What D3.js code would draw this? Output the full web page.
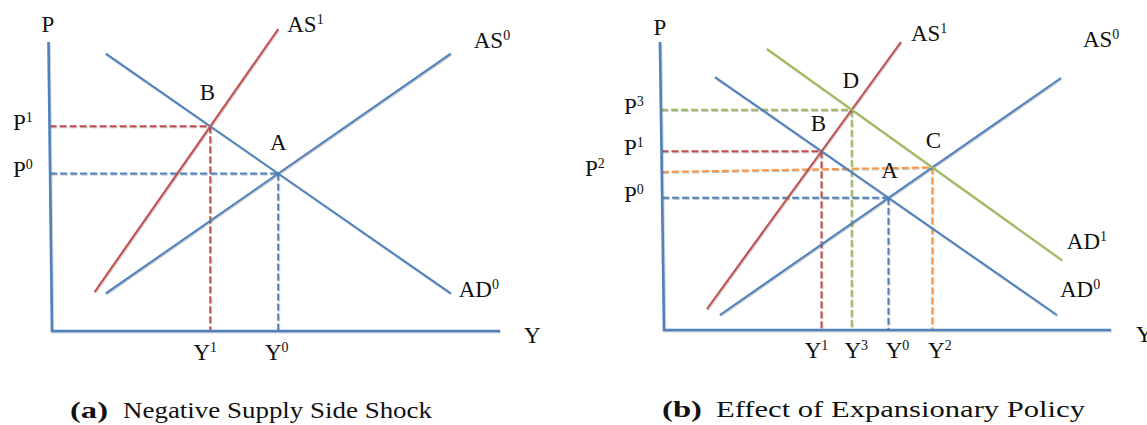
<!DOCTYPE html>
<html>
<head>
<meta charset="utf-8">
<script src="https://cdn.jsdelivr.net/npm/d3@7"></script>
<style>
  body { margin: 0; background: #fff; }
  svg { display: block; }
</style>
</head>
<body>
<svg id="chart" width="1147" height="425"></svg>
<script>
// ---------- Panel (a): negative supply side shock ----------
const curvesA = ["AD0", "AS0", "AS1"];
const curveFromA = [[12, 96], [12, 13], [9.5, 13.5]];
const curveToA = [[89, 13], [89, 96], [50.5, 104.5]];
const pointsA = ["A", "B"];
const pointCurvesA = [["AD0", "AS0"], ["AD0", "AS1"]];
const priceLabelsA = ["P0", "P1"];
const outputLabelsA = ["Y0", "Y1"];
const priceStartA = [null, null];

// ---------- Panel (b): effect of expansionary policy ----------
const curvesB = ["AD0", "AS0", "AS1", "AD1"];
const curveFromB = [[11.4, 87.8], [12.5, 5.2], [9.6, 7.3], [23, 97.6]];
const curveToB = [[87.9, 5.2], [88.8, 87.5], [53, 100], [89, 24.3]];
const pointsB = ["A", "B", "D", "C"];
const pointCurvesB = [["AD0", "AS0"], ["AD0", "AS1"], ["AD1", "AS1"], ["AD1", "AS0"]];
const priceLabelsB = ["P0", "P1", "P3", "P2"];
const outputLabelsB = ["Y0", "Y1", "Y3", "Y2"];
const priceStartB = [null, null, null, 54.9];

// ---------- styling ----------
const BLUE = "#4f81bd", RED = "#c0504d", GREEN = "#9bbb59", ORANGE = "#f79646";
const curveColor = { AD0: BLUE, AS0: BLUE, AS1: RED, AD1: GREEN };
const FONT = "'Liberation Serif', 'Times New Roman', serif";

const panels = [
  {
    curves: curvesA, from: curveFromA, to: curveToA,
    points: pointsA, pointCurves: pointCurvesA,
    priceLabels: priceLabelsA, outputLabels: outputLabelsA, priceStart: priceStartA,
    guideColor: [BLUE, RED],
    xRange: [52, 500], yRange: [331, 42], axisTopX: -0.78,
    curveLabelOffset: { AD0: [8, 4], AS0: [23, -6], AS1: [9, 3] },
    pointLabelOffset: [[0, -23], [-3, -26]],
    priceLabelX: [13, 13],
    outputLabelDx: [-1.5, -5], outputLabelDy: 29,
    pTitle: [48, 32], yTitle: [524, 343],
    caption: { bold: "(a)", text: "Negative Supply Side Shock", x: 70, xt: 123, wb: 38, wt: 309, y: 418 }
  },
  {
    curves: curvesB, from: curveFromB, to: curveToB,
    points: pointsB, pointCurves: pointCurvesB,
    priceLabels: priceLabelsB, outputLabels: outputLabelsB, priceStart: priceStartB,
    guideColor: [BLUE, RED, GREEN, ORANGE],
    xRange: [664, 1111], yRange: [330, 42], axisTopX: -0.9,
    curveLabelOffset: { AD0: [3, -18], AS0: [22, -31], AS1: [10, -1], AD1: [5, -11] },
    pointLabelOffset: [[1, -20], [-3, -20], [-1, -22], [1, -19]],
    priceLabelX: [624, 624, 624, 585],
    outputLabelDx: [9, -5, 4.5, 7.5], outputLabelDy: 28,
    pTitle: [660, 35], yTitle: [1136, 342],
    caption: { bold: "(b)", text: "Effect of Expansionary Policy", x: 662, xt: 716, wb: 40, wt: 369, y: 417 }
  }
];

const svg = d3.select("#chart");

const defs = svg.append("defs");
defs.append("filter").attr("id", "soft").attr("x", "-5%").attr("y", "-5%")
  .attr("width", "110%").attr("height", "110%")
  .append("feDropShadow")
  .attr("dx", 0.6).attr("dy", 1).attr("stdDeviation", 0.6)
  .attr("flood-color", "#000").attr("flood-opacity", 0.28);

function intersect(a1, a2, b1, b2) {
  const d = (a1[0] - a2[0]) * (b1[1] - b2[1]) - (a1[1] - a2[1]) * (b1[0] - b2[0]);
  const t = ((a1[0] - b1[0]) * (b1[1] - b2[1]) - (a1[1] - b1[1]) * (b1[0] - b2[0])) / d;
  return [a1[0] + t * (a2[0] - a1[0]), a1[1] + t * (a2[1] - a1[1])];
}

// label text with trailing superscript digit, e.g. "AS1" -> AS¹
function writeLabel(sel, label) {
  const m = label.match(/^(.*?)(\d?)$/);
  sel.append("tspan").text(m[1]);
  if (m[2]) sel.append("tspan").attr("font-size", 14).attr("dy", -8).text(m[2]);
}

panels.forEach(p => {
  const x = d3.scaleLinear().domain([0, 100]).range(p.xRange);
  const y = d3.scaleLinear().domain([0, 100]).range(p.yRange);
  const line = d3.line().x(d => x(d[0])).y(d => y(d[1]));
  const g = svg.append("g");

  const seg = {};
  p.curves.forEach((c, i) => { seg[c] = [p.from[i], p.to[i]]; });
  const axisX = v => p.axisTopX * v / 100;

  // dashed guides from each equilibrium to both axes
  const guides = g.append("g").attr("fill", "none").attr("stroke-width", 2)
    .attr("stroke-dasharray", "7,3").attr("filter", "url(#soft)");
  const eq = p.points.map((name, i) => {
    const [c1, c2] = p.pointCurves[i];
    return intersect(seg[c1][0], seg[c1][1], seg[c2][0], seg[c2][1]);
  });
  eq.forEach((pt, i) => {
    const py0 = p.priceStart[i] == null ? pt[1] : p.priceStart[i];
    guides.append("path").attr("stroke", p.guideColor[i])
      .attr("d", line([[axisX(py0), py0], pt]));
    guides.append("path").attr("stroke", p.guideColor[i])
      .attr("d", line([pt, [pt[0], 0]]));
  });

  // supply and demand curves
  g.append("g").attr("fill", "none").attr("stroke-width", 2).attr("filter", "url(#soft)")
    .selectAll("path").data(p.curves).join("path")
    .attr("stroke", c => curveColor[c])
    .attr("d", c => line(seg[c]));

  // axes
  g.append("path").attr("fill", "none").attr("stroke", BLUE).attr("stroke-width", 2.6)
    .attr("filter", "url(#soft)")
    .attr("d", line([[p.axisTopX, 100], [0, 0], [100, 0]]));

  const text = g.append("g").attr("font-family", FONT).attr("font-size", 23).attr("fill", "#111");

  // curve labels
  p.curves.forEach((c, i) => {
    const off = p.curveLabelOffset[c];
    const t = text.append("text")
      .attr("x", x(p.to[i][0]) + off[0]).attr("y", y(p.to[i][1]) + off[1]);
    writeLabel(t, c);
  });

  // equilibrium labels
  eq.forEach((pt, i) => {
    text.append("text").attr("text-anchor", "middle")
      .attr("x", x(pt[0]) + p.pointLabelOffset[i][0])
      .attr("y", y(pt[1]) + p.pointLabelOffset[i][1])
      .text(p.points[i]);
  });

  // price labels on the vertical axis
  eq.forEach((pt, i) => {
    const py0 = p.priceStart[i] == null ? pt[1] : p.priceStart[i];
    const t = text.append("text").attr("x", p.priceLabelX[i]).attr("y", y(py0) + 4);
    writeLabel(t, p.priceLabels[i]);
  });

  // output labels under the horizontal axis
  eq.forEach((pt, i) => {
    const t = text.append("text").attr("text-anchor", "middle")
      .attr("x", x(pt[0]) + p.outputLabelDx[i]).attr("y", y(0) + p.outputLabelDy);
    writeLabel(t, p.outputLabels[i]);
  });

  // axis titles
  text.append("text").attr("text-anchor", "middle")
    .attr("x", p.pTitle[0]).attr("y", p.pTitle[1]).text("P");
  text.append("text").attr("x", p.yTitle[0]).attr("y", p.yTitle[1]).text("Y");

  // caption
  const cap = p.caption;
  const ct = svg.append("g").attr("font-family", FONT).attr("font-size", 24).attr("fill", "#111");
  ct.append("text").attr("x", cap.x).attr("y", cap.y).attr("font-weight", "bold")
    .attr("textLength", cap.wb).attr("lengthAdjust", "spacingAndGlyphs").text(cap.bold);
  ct.append("text").attr("x", cap.xt).attr("y", cap.y)
    .attr("textLength", cap.wt).attr("lengthAdjust", "spacingAndGlyphs").text(cap.text);
});
</script>
</body>
</html>
